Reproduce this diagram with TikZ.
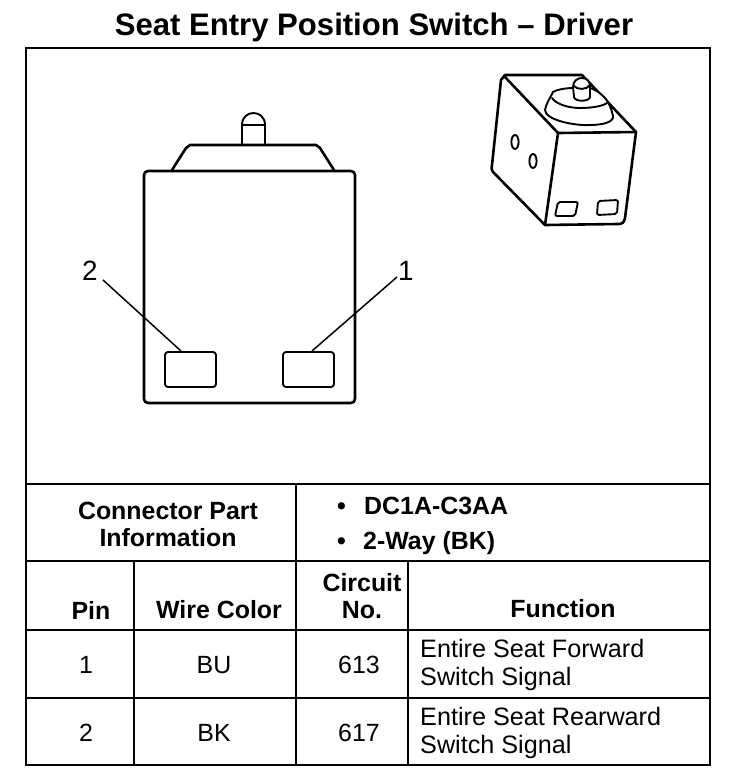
\documentclass[tikz,border=0pt]{standalone}
\usepackage{fontspec}
\setmainfont{Liberation Sans}
\tikzset{
 px/.style={x=1bp,y=-1bp},
 frameline/.style={line width=2.2bp,black},
 partline/.style={line width=2.6bp,black,line join=round,line cap=round},
 thinpart/.style={line width=1.9bp,black,line join=round,line cap=round},
 leader/.style={line width=1.5bp,black},
 hdr/.style={font=\fontsize{25}{27}\selectfont\bfseries,inner sep=0pt,align=center},
 bul/.style={font=\fontsize{25}{27}\selectfont\bfseries,inner sep=0pt,anchor=base west},
 cell/.style={font=\fontsize{25}{27}\selectfont,inner sep=0pt,align=center},
 callout/.style={font=\fontsize{28}{30}\selectfont,inner sep=0pt},
 fn/.style={font=\fontsize{25.3}{27.3}\selectfont,inner sep=0pt,align=left,anchor=west},
}
\begin{document}
\begin{tikzpicture}[px]
\useasboundingbox (0,0) rectangle (736,784);
\fill[white] (0,0) rectangle (736,784);
\node[font=\fontsize{31.2}{34}\selectfont\bfseries,inner sep=0pt] (title) at (374,27) {Seat Entry Position Switch -- Driver};
% frame and table
\draw[frameline] (26,48) rectangle (710,765);
\draw[frameline] (26,484) -- (710,484);
\draw[frameline] (26,561) -- (710,561);
\draw[frameline] (26,630) -- (710,630);
\draw[frameline] (26,698) -- (710,698);
\draw[frameline] (296,484) -- (296,561);
\draw[frameline] (134,561) -- (134,765);
\draw[frameline] (296,561) -- (296,765);
\draw[frameline] (408,561) -- (408,765);
% front view
\draw[partline,rounded corners=4bp] (144,171) -- (355,171) -- (355,403) -- (144,403) -- cycle;
\draw[partline] (172,170) -- (186,148) -- (190,145) -- (316,145) -- (320,148) -- (334,170);
\draw[thinpart] (242,145) -- (242,125) .. controls (242,109) and (265,109) .. (265,125) -- (265,145);
\draw[thinpart] (243,125) -- (264,125);
\draw[thinpart,rounded corners=3bp] (165,352) rectangle (216,387);
\draw[thinpart,rounded corners=3bp] (283,352) rectangle (334,387);
\node[callout] (two) at (90,271) {2};
\node[callout] (one) at (406,271) {1};
\coordinate (a2) at (181,351);
\coordinate (a1) at (312,351);
\coordinate (s2) at (103,280);
\coordinate (s1) at (397,277);
\draw[leader] (s2) -- (a2);
\draw[leader] (s1) -- (a1);
% perspective view
\draw[partline] (505,75) -- (582,75) -- (636,132) -- (625,218) .. controls (624,223) and (622,224) .. (618,224) -- (545,225) -- (495,174) .. controls (492,171) and (491,170) .. (492,165) -- (501,80) -- cycle;
\draw[partline] (505,77) -- (558,133) -- (545,225);
\draw[partline] (558,133) -- (636,132);
% dome
\draw[thinpart,fill=white] (553,92) .. controls (549,100) and (546,104) .. (545,110) .. controls (545,120) and (575,126) .. (590,125) .. controls (603,125) and (614,122) .. (613,116) .. controls (612,111) and (610,106) .. (608,102) .. controls (604,96) and (597,90) .. (590,88) -- (573,88) .. controls (565,88) and (556,90) .. (553,92) -- cycle;
\draw[thinpart] (552,98) .. controls (556,104) and (568,108) .. (580,108) .. controls (592,108) and (605,106) .. (608,102);
\draw[thinpart,fill=white] (574,97) -- (573,87) .. controls (573,75) and (591,75) .. (590,87) -- (590,97) .. controls (589,102) and (575,102) .. (574,97) -- cycle;
\draw[thinpart] (574,86) .. controls (577,90) and (587,90) .. (590,85);
\draw[thinpart] (515,142) ellipse [x radius=3.6bp,y radius=7bp];
\draw[thinpart] (533,161) ellipse [x radius=3.6bp,y radius=7bp];
\draw[thinpart,rounded corners=2bp] (558,202) -- (578,202) -- (575,216) -- (555,216) -- cycle;
\draw[thinpart,rounded corners=2bp] (598,201) -- (618,200) -- (617,214) -- (597,215) -- cycle;
% table text
\node[hdr] (cpi) at (168,524) {Connector Part\\Information};
\node[bul] (b1) at (337,514) {•};
\node[bul] (dc) at (364,514) {DC1A-C3AA};
\node[bul] (b2) at (337,549) {•};
\node[bul] (way) at (363,549) {2-Way (BK)};
\node[hdr] (pin) at (91,610) {Pin};
\node[hdr] (wc) at (219,610) {Wire Color};
\node[hdr] (cn) at (362,596) {Circuit\\No.};
\node[hdr] (fh) at (563,609) {Function};
\node[cell] (p1) at (86,665) {1};
\node[cell] (c1) at (214,665) {BU};
\node[cell] (n1) at (359,665) {613};
\node[fn] (f1) at (420,665) {Entire Seat Forward\\Switch Signal};
\node[cell] (p2) at (86,733) {2};
\node[cell] (c2) at (214,733) {BK};
\node[cell] (n2) at (359,733) {617};
\node[fn] (f2) at (420,733) {Entire Seat Rearward\\Switch Signal};
\end{tikzpicture}
\end{document}
